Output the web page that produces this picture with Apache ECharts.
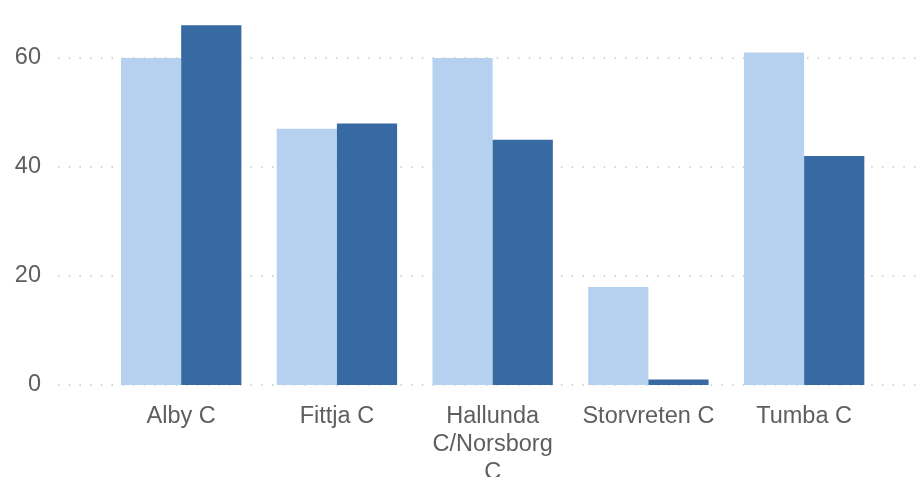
<!DOCTYPE html>
<html>
<head>
<meta charset="utf-8">
<script src="https://cdn.jsdelivr.net/npm/echarts@6/dist/echarts.min.js"></script>
<style>
html,body{margin:0;padding:0;background:#fff;}
#chart{width:919px;height:477px;}
</style>
</head>
<body>
<div id="chart"></div>
<script>
var categories = ['Alby C', 'Fittja C', 'Hallunda C/Norsborg C', 'Storvreten C', 'Tumba C'];
var seriesA = [60, 47, 60, 18, 61];
var seriesB = [66, 48, 45, 1, 42];
var yTicks = [0, 20, 40, 60];

var chart = echarts.init(document.getElementById('chart'), null, {renderer: 'canvas'});
var font = '"Liberation Sans", Arial, sans-serif';
var gridTop = 3.5, gridBottom = 92;
chart.setOption({
  animation: false,
  grid: [
    {left: 58, right: 0, top: gridTop, bottom: gridBottom, outerBoundsMode: 'none', containLabel: false},
    {left: 103.3, right: 37, top: gridTop, bottom: gridBottom, outerBoundsMode: 'none', containLabel: false}
  ],
  xAxis: [
    {gridIndex: 0, type: 'category', data: categories, show: false},
    {gridIndex: 1, type: 'category', data: categories,
     axisLine: {show: false}, axisTick: {show: false},
     axisLabel: {color: '#605E5C', fontSize: 23.5, fontFamily: font, margin: 18,
                 lineHeight: 28, interval: 0,
                 formatter: function (v) { return v.length > 14 ? v.split(' ').join('\n') : v; }}}
  ],
  yAxis: [
    {gridIndex: 0, type: 'value', min: 0, max: 70, interval: 20,
     axisLine: {show: false}, axisTick: {show: false},
     axisLabel: {color: '#605E5C', fontSize: 23.5, fontFamily: font, margin: 17, showMaxLabel: false,
                 formatter: function (v) { return yTicks.indexOf(v) >= 0 ? String(v) : ''; }},
     splitLine: {show: true, showMaxLine: false, lineStyle: {color: '#C8C6C4', width: 1.5, type: [1.5, 9.2]}}},
    {gridIndex: 1, type: 'value', min: 0, max: 70, interval: 20, show: false, splitLine: {show: false}}
  ],
  series: [
    {type: 'bar', xAxisIndex: 1, yAxisIndex: 1, data: seriesA, barGap: '0%', barCategoryGap: '22.7%',
     itemStyle: {color: '#B5D1EF'}},
    {type: 'bar', xAxisIndex: 1, yAxisIndex: 1, data: seriesB, barGap: '0%', barCategoryGap: '22.7%',
     itemStyle: {color: '#3769A3'}}
  ]
});
</script>
</body>
</html>
